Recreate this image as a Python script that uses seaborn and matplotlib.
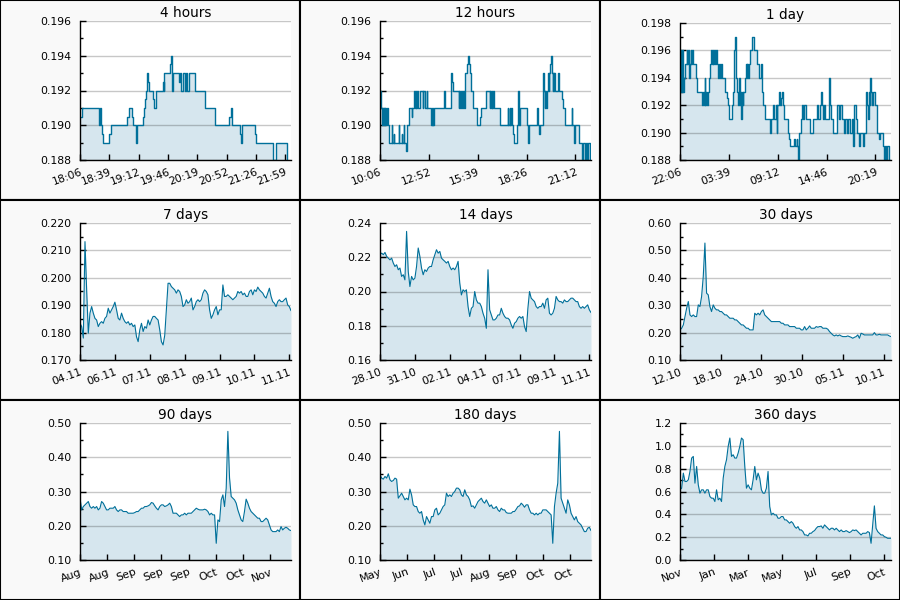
import numpy as np
import pandas as pd
import matplotlib
matplotlib.use("Agg")
import matplotlib.pyplot as plt
import seaborn as sns
from matplotlib.ticker import MultipleLocator, FormatStrFormatter
from matplotlib.patches import Rectangle

sns.set_theme(style="white")
plt.rcParams['font.family'] = ['DejaVu Sans']

LINE = "#00709a"
FILL = "#d6e6ee"

# ---- 4 hours (minutes since 18:06) ----
h4_t = [0, 2, 21.5, 22.5, 23.5, 25.5, 26.5, 33.5, 35, 54, 55.5, 59, 60, 63.5, 64.5, 72, 73, 74, 75, 76,
        77, 78, 83, 84, 87, 94, 95, 96, 102, 104, 105, 106, 113, 114, 115, 117, 119.5, 120.5, 121.5,
        123.5, 131, 142, 153, 170, 171.5, 173, 181.5, 183, 184.5, 199.5, 200.5, 219.5, 223, 235]
h4_p = [.1905, .191, .190, .191, .190, .1895, .189, .1895, .190, .1905, .191, .1905, .190, .189, .190,
        .1905, .191, .1915, .192, .193, .1925, .192, .1915, .191, .192, .1925, .192, .193, .1935, .194,
        .192, .193, .1925, .193, .192, .193, .192, .193, .192, .193, .192, .191, .190, .1905, .191, .190,
        .1895, .189, .190, .1895, .189, .188, .189, .188]
h4_labels = ["18:06", "18:39", "19:12", "19:46", "20:19", "20:52", "21:26", "21:59"]

# ---- 12 hours (minutes since 10:06) ----
h12_t = [0, 3, 8, 10, 12, 14, 16, 18, 20, 23, 26, 32, 40, 41, 47, 49, 65, 66, 74, 75, 81, 82, 89, 93,
         100, 108, 110, 117, 119, 122, 124, 127, 130, 138, 146, 148, 153, 159, 161, 174, 176, 178, 180,
         182, 184, 217, 222, 243, 246, 248, 268, 270, 273, 276, 279, 282, 285, 290, 291, 297, 300, 304,
         306, 312, 318, 331, 342, 346, 360, 375, 377, 379, 381, 383, 386, 390, 408, 436, 438, 442, 444,
         447, 452, 454, 458, 466, 472, 474, 477, 500, 504, 510, 536, 538, 544, 546, 556, 558, 562, 564,
         567, 569, 573, 575, 577, 579, 584, 587, 589, 591, 593, 595, 598, 607, 610, 620, 625, 632, 654,
         656, 662, 665, 679, 690, 693, 701, 703, 707, 710, 716, 719]
h12_p = [.192, .191, .190, .191, .190, .191, .190, .191, .190, .191, .190, .189, .190, .189, .1895, .189,
         .190, .189, .1895, .189, .190, .189, .1885, .190, .191, .1905, .191, .192, .191, .192, .191,
         .192, .191, .192, .191, .192, .191, .192, .191, .190, .191, .190, .191, .190, .191, .192, .191,
         .193, .1925, .192, .191, .192, .191, .192, .191, .192, .191, .192, .193, .1935, .194, .1935,
         .193, .192, .191, .190, .1905, .191, .192, .191, .192, .191, .192, .191, .192, .191, .190,
         .191, .190, .191, .190, .191, .190, .1895, .189, .190, .192, .190, .191, .190, .189, .190, .191,
         .190, .1895, .190, .193, .192, .191, .192, .191, .192, .193, .192, .193, .1935, .194, .193,
         .192, .193, .192, .193, .192, .193, .192, .1915, .191, .190, .191, .190, .189, .190, .189,
         .188, .189, .188, .189, .188, .189, .188, .188]
h12_labels = ["10:06", "12:52", "15:39", "18:26", "21:12"]

# ---- 1 day (minutes since 22:06) ----
d1_t = [0, 4.5, 9, 13.6, 18.2, 22.8, 29.6, 36.4, 45.5, 50, 54.6, 59, 68, 73, 77, 82, 86, 109, 114, 152,
        157, 164, 168, 173, 177, 187, 193, 200, 205, 214, 218, 223, 228, 232, 239, 246, 250, 262, 266,
        273, 280, 287, 305, 318, 325, 334, 353, 359, 366, 371, 375, 380, 387, 394, 403, 407, 414, 419,
        423, 428, 432, 446, 450, 455, 460, 464, 469, 478, 489, 505, 528, 541, 551, 557, 569, 580, 614,
        621, 632, 641, 655, 660, 664, 673, 680, 689, 694, 701, 707, 735, 746, 753, 780, 785, 796, 801,
        808, 812, 824, 835, 842, 849, 858, 887, 910, 933, 940, 956, 962, 967, 974, 983, 992, 1015,
        1019, 1024, 1031, 1047, 1069, 1083, 1092, 1103, 1122, 1129, 1137, 1149, 1160, 1172, 1183,
        1190, 1199, 1210, 1224, 1229, 1251, 1258, 1269, 1274, 1281, 1288, 1294, 1299, 1304, 1313,
        1320, 1333, 1342, 1360, 1365, 1383, 1392, 1399, 1406, 1415, 1424, 1431]
d1_p = [.196, .195, .193, .196, .194, .193, .194, .195, .196, .195, .196, .194, .195, .196, .195, .196,
        .195, .194, .193, .192, .193, .192, .194, .192, .193, .192, .193, .194, .195, .196, .195, .196,
        .195, .196, .195, .196, .195, .194, .195, .194, .195, .194, .193, .1925, .192, .191, .192, .193,
        .194, .196, .197, .194, .193, .192, .194, .192, .193, .191, .193, .192, .193, .194, .195, .194,
        .195, .194, .195, .196, .197, .196, .195, .194, .195, .193, .192, .191, .190, .191, .192, .191,
        .192, .190, .192, .193, .192, .1925, .193, .192, .191, .190, .1895, .189, .1895, .189, .1895,
        .189, .188, .190, .191, .192, .191, .192, .191, .190, .191, .192, .191, .192, .193, .192, .191,
        .192, .191, .193, .194, .192, .191, .190, .192, .191, .192, .191, .190, .191, .190, .191, .190,
        .191, .189, .192, .191, .190, .189, .190, .189, .190, .193, .192, .191, .193, .192, .194, .193,
        .192, .193, .192, .190, .1895, .190, .189, .188, .189, .188, .189, .188, .188]
d1_labels = ["22:06", "03:39", "09:12", "14:46", "20:19"]

# ---- 7 days ----
d7_p = [0.1834, 0.1822, 0.1780, 0.2132, 0.1956, 0.1798, 0.1871, 0.1895, 0.1871, 0.1852, 0.1846, 0.1822,
        0.1834, 0.1840, 0.1834, 0.1852, 0.1859, 0.1889, 0.1871, 0.1883, 0.1895, 0.1911, 0.1883, 0.1852,
        0.1846, 0.1871, 0.1852, 0.1840, 0.1834, 0.1840, 0.1828, 0.1834, 0.1822, 0.1828, 0.1785, 0.1767,
        0.1810, 0.1834, 0.1804, 0.1822, 0.1816, 0.1846, 0.1828, 0.1846, 0.1859, 0.1859, 0.1852, 0.1846,
        0.1810, 0.1767, 0.1755, 0.1790, 0.1883, 0.1980, 0.1980, 0.1968, 0.1962, 0.1956, 0.1944, 0.1956,
        0.1950, 0.1932, 0.1895, 0.1901, 0.1920, 0.1907, 0.1913, 0.1926, 0.1883, 0.1895, 0.1913, 0.1920,
        0.1913, 0.1920, 0.1944, 0.1956, 0.1950, 0.1938, 0.1883, 0.1852, 0.1865, 0.1883, 0.1895, 0.1865,
        0.1883, 0.1883, 0.1974, 0.1932, 0.1932, 0.1938, 0.1932, 0.1926, 0.1920, 0.1926, 0.1932, 0.1950,
        0.1944, 0.1950, 0.1938, 0.1944, 0.1932, 0.1932, 0.1950, 0.1956, 0.1938, 0.1956, 0.1950, 0.1966,
        0.1956, 0.1950, 0.1944, 0.1932, 0.1926, 0.1944, 0.1962, 0.1932, 0.1913, 0.1907, 0.1895, 0.1913,
        0.1920, 0.1913, 0.1913, 0.1920, 0.1926, 0.1901, 0.1895, 0.1880]
d7_labels = ["04.11", "06.11", "07.11", "08.11", "09.11", "10.11", "11.11"]

# ---- 14 days ----
d14_p = [0.2215, 0.2224, 0.2215, 0.2228, 0.2205, 0.2195, 0.2185, 0.2195, 0.2166, 0.2146, 0.2156, 0.2127,
         0.2137, 0.2088, 0.2098, 0.2068, 0.2351, 0.2117, 0.2029, 0.2088, 0.2068, 0.2078, 0.2146, 0.2254,
         0.2205, 0.2137, 0.2098, 0.2127, 0.2117, 0.2137, 0.2146, 0.2146, 0.2185, 0.2215, 0.2244, 0.2224,
         0.2234, 0.2195, 0.2185, 0.2176, 0.2166, 0.2176, 0.2146, 0.2127, 0.2137, 0.2127, 0.2146, 0.2176,
         0.2050, 0.1980, 0.2010, 0.2000, 0.2010, 0.1912, 0.1854, 0.1902, 0.1912, 0.2000, 0.1951, 0.1932,
         0.1932, 0.1912, 0.1873, 0.1844, 0.1785, 0.2127, 0.1893, 0.1863, 0.1834, 0.1834, 0.1844, 0.1863,
         0.1863, 0.1902, 0.1873, 0.1854, 0.1844, 0.1844, 0.1834, 0.1805, 0.1785, 0.1815, 0.1824, 0.1844,
         0.1854, 0.1844, 0.1854, 0.1795, 0.1766, 0.1900, 0.2000, 0.1961, 0.1951, 0.1941, 0.1912, 0.1902,
         0.1912, 0.1912, 0.1932, 0.1902, 0.1951, 0.1961, 0.1873, 0.1863, 0.1873, 0.1902, 0.1971, 0.1951,
         0.1941, 0.1941, 0.1932, 0.1951, 0.1941, 0.1941, 0.1951, 0.1961, 0.1961, 0.1951, 0.1941, 0.1941,
         0.1912, 0.1902, 0.1912, 0.1902, 0.1912, 0.1922, 0.1893, 0.1877]
d14_labels = ["28.10", "31.10", "02.11", "04.11", "07.11", "09.11", "11.11"]

# ---- 30 days ----
d30_p = [0.2098, 0.2159, 0.2280, 0.2585, 0.2890, 0.3134, 0.2646, 0.2585, 0.2646, 0.2585, 0.2585, 0.3012,
         0.2951, 0.3317, 0.4049, 0.5268, 0.3439, 0.3378, 0.2951, 0.2768, 0.3012, 0.2890, 0.2829, 0.2829,
         0.2768, 0.2768, 0.2707, 0.2646, 0.2646, 0.2585, 0.2524, 0.2524, 0.2524, 0.2463, 0.2463, 0.2402,
         0.2341, 0.2280, 0.2280, 0.2220, 0.2159, 0.2159, 0.2098, 0.2098, 0.2098, 0.2707, 0.2646, 0.2707,
         0.2646, 0.2768, 0.2829, 0.2646, 0.2585, 0.2524, 0.2463, 0.2402, 0.2402, 0.2402, 0.2402, 0.2402,
         0.2402, 0.2341, 0.2341, 0.2280, 0.2280, 0.2280, 0.2220, 0.2220, 0.2220, 0.2220, 0.2159, 0.2159,
         0.2159, 0.2098, 0.2098, 0.2220, 0.2098, 0.2159, 0.2244, 0.2159, 0.2159, 0.2159, 0.2220, 0.2195,
         0.2220, 0.2220, 0.2159, 0.2159, 0.2159, 0.2122, 0.2037, 0.1976, 0.1915, 0.1878, 0.1915, 0.1878,
         0.1915, 0.1878, 0.1854, 0.1854, 0.1854, 0.1878, 0.1854, 0.1829, 0.1793, 0.1829, 0.1854, 0.1915,
         0.1793, 0.1976, 0.1951, 0.1915, 0.1915, 0.1915, 0.1915, 0.1915, 0.1915, 0.2000, 0.1915, 0.1915,
         0.1939, 0.1915, 0.1915, 0.1915, 0.1915, 0.1915, 0.1878, 0.1854]
d30_labels = ["12.10", "18.10", "24.10", "30.10", "05.11", "10.11"]

# ---- 90 days ----
d90_p = [0.2805, 0.2463, 0.2561, 0.2610, 0.2659, 0.2707, 0.2561, 0.2512, 0.2561, 0.2512, 0.2561, 0.2463,
         0.2512, 0.2707, 0.2659, 0.2561, 0.2463, 0.2463, 0.2512, 0.2512, 0.2512, 0.2561, 0.2463, 0.2415,
         0.2463, 0.2463, 0.2415, 0.2415, 0.2415, 0.2366, 0.2366, 0.2366, 0.2366, 0.2385, 0.2415, 0.2415,
         0.2463, 0.2512, 0.2512, 0.2561, 0.2561, 0.2580, 0.2610, 0.2678, 0.2659, 0.2580, 0.2512, 0.2463,
         0.2561, 0.2610, 0.2610, 0.2561, 0.2580, 0.2610, 0.2659, 0.2561, 0.2366, 0.2366, 0.2366, 0.2317,
         0.2268, 0.2317, 0.2317, 0.2366, 0.2317, 0.2366, 0.2366, 0.2366, 0.2415, 0.2463, 0.2512, 0.2483,
         0.2463, 0.2463, 0.2463, 0.2483, 0.2463, 0.2415, 0.2317, 0.2366, 0.2317, 0.2317, 0.1488, 0.2171,
         0.2122, 0.2756, 0.2902, 0.2561, 0.3098, 0.4756, 0.3400, 0.2854, 0.2805, 0.2756, 0.2659, 0.2463,
         0.2317, 0.2171, 0.2122, 0.2415, 0.2776, 0.2659, 0.2512, 0.2415, 0.2366, 0.2317, 0.2268, 0.2220,
         0.2220, 0.2122, 0.2122, 0.2171, 0.2220, 0.2171, 0.2024, 0.1878, 0.1829, 0.1829, 0.1829, 0.1878,
         0.1829, 0.1976, 0.1878, 0.1927, 0.1956, 0.1927, 0.1878, 0.1859]
d90_labels = ["Aug", "Aug", "Sep", "Sep", "Sep", "Oct", "Oct", "Nov"]

# ---- 180 days ----
d180_p = [0.3488, 0.3390, 0.3361, 0.3439, 0.3390, 0.3517, 0.3341, 0.3293, 0.3322, 0.3390, 0.3361, 0.2805,
          0.2873, 0.2951, 0.2854, 0.2756, 0.2805, 0.2756, 0.3068, 0.2902, 0.2610, 0.2561, 0.2561, 0.2415,
          0.2366, 0.2415, 0.2171, 0.2024, 0.2268, 0.2171, 0.2073, 0.2268, 0.2268, 0.2463, 0.2512, 0.2317,
          0.2366, 0.2463, 0.2561, 0.2610, 0.2951, 0.2854, 0.2902, 0.2854, 0.2951, 0.3000, 0.3098, 0.3098,
          0.3049, 0.2902, 0.2854, 0.3049, 0.2902, 0.2854, 0.2756, 0.2561, 0.2580, 0.2512, 0.2610, 0.2707,
          0.2756, 0.2805, 0.2707, 0.2659, 0.2756, 0.2659, 0.2561, 0.2610, 0.2512, 0.2512, 0.2561, 0.2463,
          0.2415, 0.2512, 0.2463, 0.2463, 0.2385, 0.2366, 0.2366, 0.2366, 0.2415, 0.2415, 0.2483, 0.2561,
          0.2580, 0.2659, 0.2610, 0.2541, 0.2610, 0.2610, 0.2463, 0.2366, 0.2366, 0.2317, 0.2366, 0.2317,
          0.2366, 0.2366, 0.2463, 0.2463, 0.2463, 0.2415, 0.2366, 0.2317, 0.1488, 0.2561, 0.2951, 0.3244,
          0.4756, 0.2805, 0.2659, 0.2512, 0.2366, 0.2756, 0.2610, 0.2366, 0.2268, 0.2171, 0.2268, 0.2122,
          0.2073, 0.2024, 0.1927, 0.1829, 0.1829, 0.1927, 0.1956, 0.1859]
d180_labels = ["May", "Jun", "Jul", "Jul", "Aug", "Sep", "Oct", "Oct"]

# ---- 360 days ----
d360_p = [0.6146, 0.6292, 0.7609, 0.6877, 0.6877, 0.7024, 0.7755, 0.8926, 0.9072, 0.6731, 0.8194, 0.6585,
          0.5853, 0.6146, 0.6146, 0.5853, 0.6146, 0.6146, 0.5560, 0.5414, 0.5414, 0.5121, 0.6146, 0.5268,
          0.5414, 0.5121, 0.7170, 0.8194, 0.8780, 0.9950, 1.0682, 0.9072, 0.9219, 0.8926, 0.8926, 0.9365,
          0.9950, 1.0682, 1.0536, 0.8194, 0.6292, 0.6585, 0.6292, 0.6146, 0.7024, 0.8194, 0.7024, 0.7609,
          0.7170, 0.6146, 0.5853, 0.5853, 0.6292, 0.7755, 0.4682, 0.3951, 0.4097, 0.3951, 0.3951, 0.3658,
          0.3658, 0.3805, 0.3805, 0.3512, 0.3512, 0.3365, 0.3219, 0.3365, 0.3219, 0.2927, 0.2780, 0.2927,
          0.2634, 0.2634, 0.2488, 0.2195, 0.2195, 0.2107, 0.2341, 0.2341, 0.2488, 0.2575, 0.2780, 0.2927,
          0.2927, 0.2985, 0.2780, 0.3073, 0.2927, 0.2780, 0.2634, 0.2780, 0.2780, 0.2634, 0.2780, 0.2634,
          0.2488, 0.2634, 0.2488, 0.2488, 0.2575, 0.2488, 0.2400, 0.2488, 0.2634, 0.2575, 0.2634, 0.2488,
          0.2341, 0.2195, 0.2341, 0.2341, 0.2341, 0.2488, 0.2400, 0.1463, 0.3073, 0.4741, 0.2780, 0.2488,
          0.2341, 0.2195, 0.2195, 0.2049, 0.1990, 0.1902, 0.1902, 0.1902]
d360_labels = ["Nov", "Jan", "Mar", "May", "Jul", "Sep", "Oct"]

panels = [
    dict(title="4 hours", t=h4_t, p=h4_p, span=240, tstep=2000 / 60, labels=h4_labels,
         ylim=(0.188, 0.196), major=0.002, fmt="%.3f", step=True, top=21),
    dict(title="12 hours", t=h12_t, p=h12_p, span=720, tstep=10000 / 60, labels=h12_labels,
         ylim=(0.188, 0.196), major=0.002, fmt="%.3f", step=True, top=21),
    dict(title="1 day", t=d1_t, p=d1_p, span=1440, tstep=20000 / 60, labels=d1_labels,
         ylim=(0.188, 0.198), major=0.002, fmt="%.3f", step=True, top=23),
    dict(title="7 days", t=None, p=d7_p, span=7, tstep=100000 / 86400, labels=d7_labels,
         ylim=(0.17, 0.22), major=0.01, fmt="%.3f", step=False, top=23),
    dict(title="14 days", t=None, p=d14_p, span=14, tstep=200000 / 86400, labels=d14_labels,
         ylim=(0.16, 0.24), major=0.02, fmt="%.2f", step=False, top=23),
    dict(title="30 days", t=None, p=d30_p, span=30, tstep=500000 / 86400, labels=d30_labels,
         ylim=(0.10, 0.60), major=0.10, fmt="%.2f", step=False, top=23),
    dict(title="90 days", t=None, p=d90_p, span=90, tstep=1000000 / 86400, labels=d90_labels,
         ylim=(0.10, 0.50), major=0.10, fmt="%.2f", step=False, top=23),
    dict(title="180 days", t=None, p=d180_p, span=180, tstep=2000000 / 86400, labels=d180_labels,
         ylim=(0.10, 0.50), major=0.10, fmt="%.2f", step=False, top=23),
    dict(title="360 days", t=None, p=d360_p, span=360, tstep=5000000 / 86400, labels=d360_labels,
         ylim=(0.0, 1.2), major=0.2, fmt="%.1f", step=False, top=23),
]

fig = plt.figure(figsize=(9, 6), dpi=100)
W, H = 900.0, 600.0

for i, cfg in enumerate(panels):
    row, col = divmod(i, 3)
    cx, cy = col * 300, row * 200
    # panel background with black frame, kept behind the axes
    fig.patches.append(Rectangle((cx / W, 1 - (cy + 200) / H), 300 / W, 200 / H,
                                 transform=fig.transFigure, facecolor="#f9f9f9",
                                 edgecolor="black", lw=1.5, zorder=-10))
    top = cfg["top"]
    ax = fig.add_axes([(cx + 80) / W, 1 - (cy + 160) / H, 211 / W, (160 - top) / H])
    ax.set_zorder(1)
    ax.set_facecolor("white")

    p = np.array(cfg["p"])
    if cfg["t"] is None:
        t = np.linspace(0, cfg["span"], len(p))
    else:
        t = np.array(cfg["t"], dtype=float)
    df = pd.DataFrame({"t": t, "p": p})

    y0, y1 = cfg["ylim"]
    if cfg["step"]:
        ax.fill_between(df["t"], df["p"], y0, step="post", color=FILL, lw=0, zorder=1)
        sns.lineplot(data=df, x="t", y="p", ax=ax, color=LINE, lw=1.0,
                     drawstyle="steps-post", zorder=3)
    else:
        ax.fill_between(df["t"], df["p"], y0, color=FILL, lw=0, zorder=1)
        sns.lineplot(data=df, x="t", y="p", ax=ax, color=LINE, lw=0.8, zorder=3)

    ax.set_xlim(0, cfg["span"])
    ax.set_ylim(y0, y1)
    ax.set_xlabel("")
    ax.set_ylabel("")

    nt = len(cfg["labels"])
    ax.set_xticks([k * cfg["tstep"] for k in range(nt)])
    ax.set_xticklabels(cfg["labels"], rotation=20, ha="right", rotation_mode="anchor")
    ax.yaxis.set_major_locator(MultipleLocator(cfg["major"]))
    ax.yaxis.set_minor_locator(MultipleLocator(cfg["major"] / 2))
    ax.yaxis.set_major_formatter(FormatStrFormatter(cfg["fmt"]))

    ax.tick_params(axis="y", which="major", direction="in", length=4.5, width=1,
                   color="black", labelcolor="black", labelsize=7.8, pad=6, left=True)
    ax.tick_params(axis="y", which="minor", direction="in", length=2.2, width=1,
                   color="black", left=True)
    ax.tick_params(axis="x", which="major", direction="in", length=4.5, width=1,
                   color="black", labelcolor="black", labelsize=7.8, pad=5, bottom=True)

    for s in ["top", "right"]:
        ax.spines[s].set_visible(False)
    for s in ["left", "bottom"]:
        ax.spines[s].set_color("black")
        ax.spines[s].set_linewidth(1.0)
        ax.spines[s].set_zorder(4)

    ax.set_axisbelow(False)
    ax.yaxis.grid(True, color="black", alpha=0.22, lw=1.0)
    ax.xaxis.grid(False)
    for gl in ax.get_ygridlines():
        gl.set_zorder(2)

    ax.set_title(cfg["title"], fontsize=9.8, pad=3, color="black")

fig.savefig("out.png", dpi=100)
